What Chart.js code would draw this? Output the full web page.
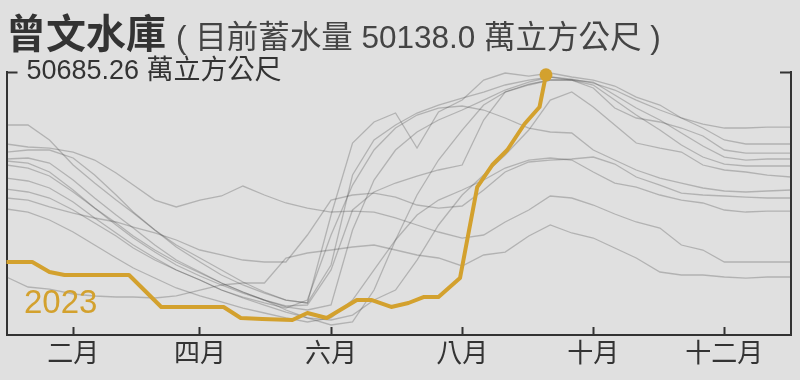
<!DOCTYPE html>
<html>
<head>
<meta charset="utf-8">
<script src="https://cdn.jsdelivr.net/npm/chart.js@4.4.0/dist/chart.umd.min.js"></script>
<style>
  html, body { margin: 0; padding: 0; background: #e0e0e0; }
  #wrap { position: relative; width: 800px; height: 380px; overflow: hidden;
          font-family: 'Liberation Sans', 'Noto Sans CJK TC', sans-serif; }
  #title { position: absolute; left: 6px; top: 2px; white-space: nowrap; color: #333; }
  #title b { font-size: 40px; font-weight: bold; }
  #title span { font-size: 31.5px; color: #444; margin-left: 10px; }
  #yearTag { position: absolute; left: 24px; top: 283px; font-size: 33px; color: #d3a12e; }
  canvas { position: absolute; left: 0; top: 0; }
</style>
</head>
<body>
<div id="wrap">
  <canvas id="damChart" width="800" height="380"></canvas>
  <div id="title"><b>曾文水庫</b><span>( 目前蓄水量 50138.0 萬立方公尺 )</span></div>
  <div id="yearTag">2023</div>
</div>
<script>
// 有效容量 (萬立方公尺)
const capacity = 50685.26;

// x 軸: 一年中的第幾天
const monthStarts = [32, 91, 152, 213, 274, 335];
const monthLabels = ['二月', '四月', '六月', '八月', '十月', '十二月'];

// 歷年資料 (每旬)
const days = [1, 11, 21, 32, 42, 52, 60, 70, 80, 91, 101, 111, 121, 131, 141, 152, 162, 172, 182,
              192, 202, 213, 223, 233, 244, 254, 264, 274, 284, 294, 305, 315, 325, 335, 345, 355, 366];

const pastYears = ['2012', '2013', '2014', '2015', '2016', '2017', '2018', '2019', '2020', '2021', '2022'];

const y2012 = [40470, 40470, 37580, 32760, 29290, 26010, 23510, 20230, 17340, 14840, 12530, 10210, 8290, 6740, 6170, 13490, 30830, 37580, 40470,
               42780, 44320, 45670, 46830, 48180, 49140, 49720, 49330, 48560, 47210, 45280, 43360, 41820, 40660, 39890, 39890, 40080, 40080];
const y2013 = [30250, 29680, 28330, 25630, 22550, 19660, 17340, 14840, 12530, 10600, 8670, 7130, 5780, 4430, 3280, 2890, 3850, 6740, 8670,
               14450, 21200, 26980, 30830, 34690, 39500, 45280, 46830, 43940, 40470, 37000, 36030, 35260, 32760, 31800, 31410, 30830, 30450];
const y2014 = [28130, 27560, 26400, 24090, 21580, 19080, 16760, 14450, 12530, 10600, 8670, 7320, 6170, 5200, 6740, 19270, 28900, 35650, 39890,
               42390, 43740, 44130, 43360, 41820, 39890, 39120, 38930, 35650, 33720, 31800, 30250, 29290, 28330, 27750, 27560, 27750, 27940];
const y2015 = [26400, 26010, 24670, 23510, 22550, 21780, 20810, 19660, 18310, 16380, 15420, 14450, 14070, 14070, 19270, 26010, 26980, 27360, 26590,
               25050, 24470, 24860, 27940, 31410, 33340, 33720, 33920, 34300, 32950, 30450, 28900, 27360, 26980, 26790, 26590, 26400, 26400];
const y2016 = [24280, 23700, 22160, 19850, 17340, 14840, 12910, 10980, 9060, 7520, 6360, 5200, 4240, 3280, 2510, 3280, 6740, 12530, 18310,
               23120, 26010, 27940, 29870, 32180, 33720, 34110, 33720, 31410, 29290, 28520, 26980, 26010, 25440, 24090, 23700, 23890, 23890];
const y2017 = [11180, 9250, 8860, 7900, 7520, 7320, 7320, 7130, 7520, 8670, 9640, 10020, 10020, 14840, 15800, 16380, 16960, 17340, 16380,
               15420, 14840, 13300, 15420, 15990, 19080, 21200, 19660, 18690, 16760, 14840, 12140, 11560, 11560, 11180, 10980, 11180, 11180];
const y2018 = [32760, 32180, 30640, 27560, 24470, 21580, 19080, 16380, 14070, 11950, 10020, 8290, 6740, 4820, 3280, 1930, 2510, 8670, 18310,
               26980, 33720, 39500, 44320, 46830, 48180, 49140, 49140, 48180, 45280, 42390, 39500, 36610, 34300, 32950, 32570, 32570, 32570];
const y2019 = [33530, 33140, 31410, 27940, 24470, 21200, 18690, 15990, 13490, 11370, 9640, 8090, 6740, 5590, 5780, 12530, 24090, 27560, 29290,
               30640, 31800, 32760, 41430, 46830, 48370, 49140, 49140, 48750, 46250, 43740, 41430, 38930, 36420, 34300, 33720, 33920, 33920];
const y2020 = [33920, 34110, 33140, 29870, 26400, 23120, 20620, 17340, 14450, 12140, 10020, 8290, 6740, 5400, 4820, 5780, 20230, 29870, 35650,
               39120, 41430, 43360, 45280, 47210, 48750, 49720, 49140, 47600, 43740, 41820, 41050, 39890, 38350, 35650, 35070, 35070, 35070];
const y2021 = [35260, 35650, 35650, 34110, 30830, 26980, 23700, 20230, 16960, 14070, 11560, 9640, 8090, 6740, 6170, 23120, 37000, 41050, 42780,
               36030, 42970, 45280, 49140, 50490, 49910, 50490, 49720, 49140, 47980, 45860, 44320, 41820, 39890, 37580, 36810, 36810, 36810];
const y2022 = [36810, 36230, 36030, 35260, 33720, 31220, 28900, 26010, 24670, 26010, 26790, 28710, 26980, 25440, 24470, 23700, 23890, 23700, 22550,
               21200, 19850, 18690, 19270, 21780, 24090, 26790, 26400, 25050, 23320, 21780, 20620, 17340, 16380, 14070, 14070, 14070, 14070];

const pastValues = [y2012, y2013, y2014, y2015, y2016, y2017, y2018, y2019, y2020, y2021, y2022];

// 今年
const days2023 = [1, 13, 21, 28, 58, 73, 102, 110, 120, 134, 141, 150, 164, 171, 180, 188, 195, 202, 212, 220, 227, 234, 242, 249, 252];
const y2023 = [14070, 14070, 12140, 11560, 11560, 5400, 5400, 3280, 3080, 2890, 4240, 3280, 6740, 6740, 5400, 6170, 7320, 7320,
               10980, 28520, 32760, 35650, 40660, 43940, 50138.0];

const gold = '#d3a12e';
const axisColor = '#333';
const fontFamily = "'Liberation Sans', 'Noto Sans CJK TC', sans-serif";

const datasets = [{
    label: '2023',
    data: y2023.map((v, i) => ({ x: days2023[i], y: v })),
    borderColor: gold,
    backgroundColor: gold,
    borderWidth: 4,
    borderJoinStyle: 'round',
    clip: 12,
    pointRadius: (ctx) => ctx.dataIndex === y2023.length - 1 ? 6.5 : 0,
    pointBorderWidth: 0,
    pointBackgroundColor: gold
}];

pastValues.forEach(function (vals, k) {
    datasets.push({
        label: pastYears[k],
        data: vals.map((v, i) => ({ x: days[i], y: v })),
        borderColor: 'rgba(60, 60, 60, 0.28)',
        borderWidth: 1.3,
        pointRadius: 0
    });
});

function sideAxis(position, showLabel) {
    return {
        type: 'linear',
        position: position,
        display: true,
        min: 0,
        max: capacity,
        afterBuildTicks: (scale) => { scale.ticks = [{ value: capacity }]; },
        afterFit: (scale) => { scale.width = 2; },
        border: { display: true, color: axisColor, width: 2 },
        grid: { drawOnChartArea: false, drawTicks: true, tickLength: -11, tickColor: axisColor, tickWidth: 2 },
        ticks: {
            display: showLabel,
            mirror: true,
            padding: 20,
            color: axisColor,
            font: { size: 27, family: fontFamily },
            callback: () => capacity.toFixed(2) + ' 萬立方公尺'
        }
    };
}

new Chart(document.getElementById('damChart'), {
    type: 'line',
    data: { datasets: datasets },
    options: {
        responsive: false,
        animation: false,
        devicePixelRatio: 1,
        layout: { padding: { top: 72, left: 3, right: 7, bottom: 0 } },
        plugins: { legend: { display: false }, tooltip: { enabled: false } },
        elements: { line: { tension: 0 } },
        scales: {
            x: {
                type: 'linear',
                min: 1,
                max: 366,
                afterBuildTicks: (scale) => { scale.ticks = monthStarts.map(v => ({ value: v })); },
                afterFit: (scale) => { scale.height = 45; },
                border: { display: true, color: axisColor, width: 2 },
                grid: { drawOnChartArea: false, drawTicks: true, tickLength: -8, tickColor: axisColor, tickWidth: 2 },
                ticks: {
                    autoSkip: false,
                    maxRotation: 0,
                    padding: 12,
                    color: axisColor,
                    font: { size: 26, family: fontFamily },
                    callback: (value, index) => monthLabels[index]
                }
            },
            y: sideAxis('left', true),
            y2: sideAxis('right', false)
        }
    }
});
</script>
</body>
</html>
